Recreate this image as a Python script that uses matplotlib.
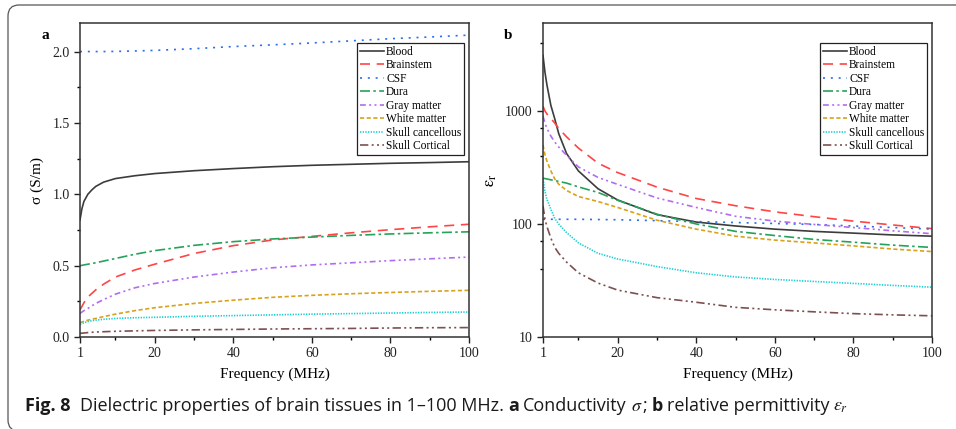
import matplotlib
matplotlib.use('Agg')
import matplotlib.pyplot as plt
from matplotlib.patches import FancyBboxPatch
from matplotlib.transforms import IdentityTransform
from matplotlib.ticker import FixedLocator, NullFormatter

plt.rcParams['font.family'] = ['Liberation Serif', 'DejaVu Serif']
plt.rcParams['mathtext.fontset'] = 'stix'

# frequency grid (MHz)
freq = [1, 1.5, 2, 3, 4, 5, 7, 10, 15, 20, 30, 40, 50, 60, 70, 80, 90, 100]

tissues = ['Blood', 'Brainstem', 'CSF', 'Dura', 'Gray matter', 'White matter',
           'Skull cancellous', 'Skull Cortical']

# conductivity (S/m)
sig_blood = [0.82, 0.90, 0.95, 1.00, 1.03, 1.055, 1.085, 1.11, 1.13, 1.145, 1.165, 1.18, 1.193, 1.203, 1.21, 1.217, 1.222, 1.228]
sig_brainstem = [0.19, 0.215, 0.24, 0.28, 0.305, 0.33, 0.37, 0.42, 0.47, 0.51, 0.585, 0.64, 0.68, 0.705, 0.73, 0.752, 0.772, 0.79]
sig_csf = [2.0, 2.0, 2.0, 2.0, 2.0, 2.0, 2.0, 2.001, 2.004, 2.008, 2.02, 2.035, 2.047, 2.06, 2.075, 2.09, 2.102, 2.115]
sig_dura = [0.50, 0.502, 0.505, 0.51, 0.515, 0.52, 0.532, 0.55, 0.58, 0.605, 0.642, 0.668, 0.687, 0.70, 0.712, 0.722, 0.73, 0.737]
sig_gray = [0.165, 0.175, 0.185, 0.20, 0.218, 0.235, 0.262, 0.30, 0.345, 0.375, 0.42, 0.455, 0.485, 0.505, 0.52, 0.535, 0.548, 0.56]
sig_white = [0.10, 0.105, 0.11, 0.118, 0.125, 0.13, 0.143, 0.16, 0.185, 0.205, 0.235, 0.258, 0.278, 0.292, 0.303, 0.312, 0.32, 0.327]
sig_cancellous = [0.09, 0.095, 0.10, 0.108, 0.114, 0.118, 0.124, 0.13, 0.135, 0.138, 0.145, 0.15, 0.155, 0.16, 0.164, 0.168, 0.172, 0.175]
sig_cortical = [0.025, 0.027, 0.028, 0.031, 0.033, 0.035, 0.037, 0.04, 0.043, 0.046, 0.05, 0.053, 0.056, 0.058, 0.06, 0.063, 0.065, 0.066]

# relative permittivity
eps_blood = [3100, 2200, 1700, 1120, 850, 630, 420, 295, 205, 163, 121, 104, 96, 90, 86, 83, 80, 78]
eps_brainstem = [1100, 1000, 940, 860, 780, 700, 590, 470, 345, 285, 212, 168, 145, 128, 116, 106, 98, 91]
eps_csf = [110, 110, 110, 110, 110, 110, 110, 110, 109.5, 109, 107, 105, 103, 101, 99, 96, 93, 90]
eps_dura = [255, 252, 250, 246, 242, 238, 230, 213, 190, 162, 122, 100, 86, 79, 73, 69, 65, 62]
eps_gray = [900, 780, 700, 600, 530, 480, 405, 320, 258, 224, 170, 140, 117, 106, 99, 93, 87, 82]
eps_white = [500, 410, 360, 295, 250, 225, 198, 175, 158, 140, 108, 90, 78, 72, 68, 64, 60, 57]
eps_cancellous = [250, 195, 165, 135, 112, 100, 84, 68, 55, 49, 42, 37, 34, 32.3, 31, 29.8, 28.6, 27.6]
eps_cortical = [145, 110, 95, 75, 62, 55, 46, 37, 30, 26, 22.3, 20.3, 18.3, 17.4, 16.7, 16.1, 15.7, 15.4]

sigma = [sig_blood, sig_brainstem, sig_csf, sig_dura, sig_gray, sig_white, sig_cancellous, sig_cortical]
eps = [eps_blood, eps_brainstem, eps_csf, eps_dura, eps_gray, eps_white, eps_cancellous, eps_cortical]

colors = ['#3c3c3c', '#ff4545', '#2a6ee8', '#25a35a', '#b26cf0', '#d9a21c', '#19cfd4', '#7d5050']
styles = ['-', (0, (6, 4)), (0, (1.2, 3.5)), (0, (6, 2, 1.5, 2)), (0, (3.5, 2, 1.2, 2, 1.2, 2)),
          (0, (2.5, 1.5)), (0, (0.8, 0.8)), (0, (5, 2, 1.2, 2, 1.2, 2))]

W, H = 956, 429
fig = plt.figure(figsize=(W / 100, H / 100), dpi=100)

# frame around the figure
frame = FancyBboxPatch((8, -2), 1000, 426, boxstyle='round,pad=0,rounding_size=11',
                       transform=IdentityTransform(), fill=False, ec='#555555', lw=0.9)
fig.patches.append(frame)

axa = fig.add_axes([80 / W, (H - 337) / H, 389 / W, 314 / H])
axb = fig.add_axes([543 / W, (H - 337) / H, 389 / W, 314 / H])

for i, name in enumerate(tissues):
    axa.plot(freq, sigma[i], color=colors[i], ls=styles[i], lw=1.2, label=name)
    axb.plot(freq, eps[i], color=colors[i], ls=styles[i], lw=1.2, label=name)

axa.set_ylim(0, 2.2)
axa.set_yticks([0, 0.5, 1.0, 1.5, 2.0])
axa.set_yticklabels(['0.0', '0.5', '1.0', '1.5', '2.0'])
axa.yaxis.set_minor_locator(FixedLocator([0.25, 0.75, 1.25, 1.75]))
axa.set_ylabel('σ (S/m)', fontsize=11, labelpad=6)

axb.set_yscale('log')
axb.set_ylim(10, 6000)
axb.yaxis.set_major_locator(FixedLocator([10, 100, 1000]))
axb.set_yticklabels(['10', '100', '1000'])
axb.yaxis.set_minor_locator(FixedLocator([40, 70, 400, 700, 4000]))
axb.yaxis.set_minor_formatter(NullFormatter())
axb.set_ylabel(r'$\mathrm{\varepsilon_r}$', fontsize=12, labelpad=4)

for ax, lab in [(axa, 'a'), (axb, 'b')]:
    ax.set_xlim(1, 100)
    ax.set_xticks([1, 20, 40, 60, 80, 100])
    ax.xaxis.set_minor_locator(FixedLocator([10, 30, 50, 70, 90]))
    ax.set_xlabel('Frequency (MHz)', fontsize=11, labelpad=5)
    ax.tick_params(which='major', direction='out', length=4, width=1, labelsize=10, colors='#222222')
    ax.tick_params(which='minor', direction='out', length=2.5, width=1)
    for sp in ax.spines.values():
        sp.set_linewidth(1.1)
        sp.set_color('#333333')
    ax.text(-0.1, 0.96, lab, transform=ax.transAxes, fontsize=11, fontweight='bold',
            ha='left', va='center')
    leg = ax.legend(loc='upper right', bbox_to_anchor=(0.988, 0.936), borderaxespad=0,
                    fontsize=8.3, handlelength=2.1, handletextpad=0.2, labelspacing=0.13,
                    borderpad=0.25, frameon=True, fancybox=False, framealpha=1)
    leg.get_frame().set_edgecolor('#222222')
    leg.get_frame().set_linewidth(0.9)

# caption
renderer = fig.canvas.get_renderer()
pieces = [('Fig. 8', 'bold', 9), ('Dielectric properties of brain tissues in 1–100 MHz.', 'normal', 5),
          ('a', 'bold', 4), ('Conductivity', 'normal', 4), (r'$\sigma$', 'normal', 0),
          (';', 'normal', 4), ('b', 'bold', 4), ('relative permittivity', 'normal', 4),
          (r'$\varepsilon_r$', 'normal', 0)]
x = 25
for s, wt, gap in pieces:
    t = fig.text(x / W, 1 - 411 / H, s, fontsize=13, family='Open Sans', fontweight=wt,
                 va='baseline', ha='left', color='#1a1a1a')
    bb = t.get_window_extent(renderer)
    x = bb.x1 + gap

fig.savefig('out.png', dpi=100)
